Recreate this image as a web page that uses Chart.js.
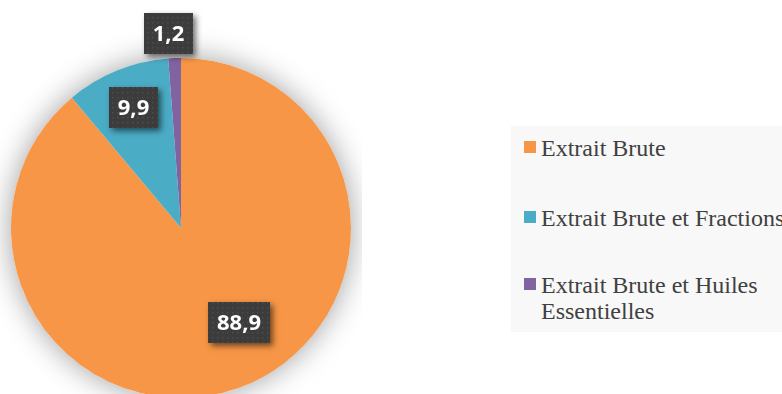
<!DOCTYPE html>
<html lang="fr">
<head>
<meta charset="utf-8">
<script src="https://cdn.jsdelivr.net/npm/chart.js@4.4.0/dist/chart.umd.min.js"></script>
<style>
  html, body { margin: 0; padding: 0; background: #fff; width: 782px; height: 394px; overflow: hidden; }
  #pie-wrap { position: absolute; left: 0; top: 0; width: 362px; height: 456px; }
  #legend {
    position: absolute; left: 511px; top: 126px; width: 271px; height: 206px;
    background: #f8f8f8; margin: 0; padding: 0; list-style: none;
    font-family: "Liberation Serif", "Times New Roman", serif; font-size: 24px;
    line-height: 26px; color: #404040;
  }
  #legend li { position: absolute; left: 30px; width: 252px; white-space: normal; }
  #legend .swatch { position: absolute; left: -17px; top: 6px; width: 12px; height: 12px; }
</style>
</head>
<body>
<div id="pie-wrap"><canvas id="pieChart"></canvas></div>
<ul id="legend"></ul>
<script>
const categories = ['Extrait Brute', 'Extrait Brute et Fractions', 'Extrait Brute et Huiles Essentielles'];
const shares = [88.9, 9.9, 1.2];
const sliceColors = ['#F79646', '#4BACC6', '#8064A2'];

// where each value box sits: angle nudge (deg) from slice middle, radius fraction
const boxPlacement = [
    { nudge: -11.5, radius: 0.65 },
    { nudge: 0.6, radius: 0.76 },
    { nudge: -1.6, radius: 1.145 }
];

function formatValue(v) {
    return v.toFixed(1).replace('.', ',');
}

// soft glow behind the whole pie
const pieShadow = {
    id: 'pieShadow',
    beforeDatasetsDraw(chart) {
        const arc = chart.getDatasetMeta(0).data[0];
        if (!arc) return;
        const { x, y, outerRadius } = arc.getProps(['x', 'y', 'outerRadius'], true);
        const ctx = chart.ctx;
        ctx.save();
        ctx.shadowColor = 'rgba(0,0,0,0.38)';
        ctx.shadowBlur = 30;
        ctx.beginPath();
        ctx.arc(x, y, outerRadius, 0, Math.PI * 2);
        ctx.fillStyle = '#ffffff';
        ctx.fill();
        ctx.restore();
    }
};

// dark dotted boxes carrying the percentages
const valueBoxes = {
    id: 'valueBoxes',
    afterDatasetsDraw(chart) {
        const ctx = chart.ctx;
        const tile = document.createElement('canvas');
        tile.width = 5; tile.height = 5;
        const tctx = tile.getContext('2d');
        tctx.fillStyle = '#3c3c3c';
        tctx.fillRect(0, 0, 5, 5);
        tctx.fillStyle = '#4d4d4d';
        tctx.fillRect(2, 2, 1.5, 1.5);
        const pattern = ctx.createPattern(tile, 'repeat');

        chart.getDatasetMeta(0).data.forEach((arc, i) => {
            const p = arc.getProps(['x', 'y', 'startAngle', 'endAngle', 'outerRadius'], true);
            const place = boxPlacement[i];
            const ang = (p.startAngle + p.endAngle) / 2 + place.nudge * Math.PI / 180;
            const r = p.outerRadius * place.radius;
            const cx = p.x + Math.cos(ang) * r;
            const cy = p.y + Math.sin(ang) * r;
            const text = formatValue(shares[i]);

            ctx.save();
            ctx.font = 'bold 22px "Open Sans", sans-serif';
            const w = Math.round(ctx.measureText(text).width + 18);
            const h = 41;
            const left = Math.round(cx - w / 2), top = Math.round(cy - h / 2);
            ctx.shadowColor = 'rgba(0,0,0,0.55)';
            ctx.shadowBlur = 6;
            ctx.shadowOffsetX = 3;
            ctx.shadowOffsetY = 3;
            ctx.fillStyle = '#3c3c3c';
            ctx.fillRect(left, top, w, h);
            ctx.shadowColor = 'transparent';
            ctx.fillStyle = pattern;
            ctx.fillRect(left, top, w, h);
            ctx.fillStyle = '#ffffff';
            ctx.textAlign = 'center';
            ctx.textBaseline = 'middle';
            ctx.fillText(text, left + w / 2, top + h / 2 + 1);
            ctx.restore();
        });
    }
};

new Chart(document.getElementById('pieChart'), {
    type: 'pie',
    data: {
        labels: categories,
        datasets: [{
            data: shares,
            backgroundColor: sliceColors,
            borderWidth: 0,
            hoverOffset: 0,
            offset: 0
        }]
    },
    options: {
        responsive: true,
        maintainAspectRatio: false,
        animation: false,
        layout: { padding: { top: 58, bottom: 58, left: 11, right: 11 } },
        plugins: {
            legend: { display: false },
            tooltip: { enabled: false }
        }
    },
    plugins: [pieShadow, valueBoxes]
});

// legend on the right, built from the same arrays
const legend = document.getElementById('legend');
const rowTops = [9, 79, 146];
categories.forEach((name, i) => {
    const li = document.createElement('li');
    li.style.top = rowTops[i] + 'px';
    li.innerHTML = `<span class="swatch" style="background:${sliceColors[i]}"></span>${name}`;
    legend.appendChild(li);
});
</script>
</body>
</html>
